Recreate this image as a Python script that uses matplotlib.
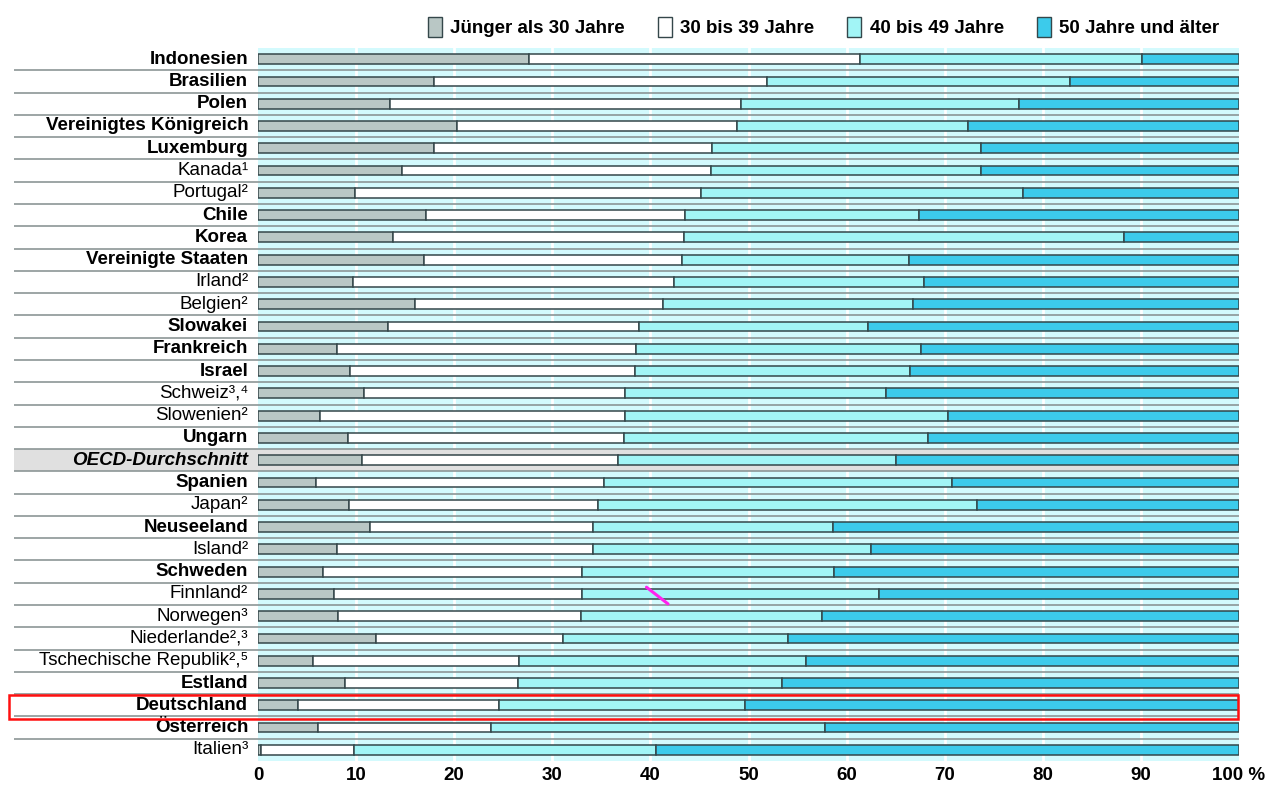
import matplotlib
matplotlib.use("Agg")
import matplotlib.pyplot as plt
from matplotlib.patches import Patch, Rectangle
import numpy as np

countries = [
    "Indonesien", "Brasilien", "Polen", "Vereinigtes Königreich", "Luxemburg",
    "Kanada¹", "Portugal²", "Chile", "Korea", "Vereinigte Staaten", "Irland²",
    "Belgien²", "Slowakei", "Frankreich", "Israel", "Schweiz³,⁴", "Slowenien²",
    "Ungarn", "OECD-Durchschnitt", "Spanien", "Japan²", "Neuseeland", "Island²",
    "Schweden", "Finnland²", "Norwegen³", "Niederlande²,³",
    "Tschechische Republik²,⁵", "Estland", "Deutschland", "Österreich", "Italien³",
]
bold_labels = {
    "Indonesien", "Brasilien", "Polen", "Vereinigtes Königreich", "Luxemburg",
    "Chile", "Korea", "Vereinigte Staaten", "Slowakei", "Frankreich", "Israel",
    "Ungarn", "Spanien", "Neuseeland", "Schweden", "Estland", "Deutschland",
    "Österreich",
}
average_label = "OECD-Durchschnitt"
highlight_label = "Deutschland"

# Age shares of teachers (%)
under_30 = [27.6, 17.9, 13.5, 20.3, 17.9, 14.7, 9.9, 17.1, 13.8, 16.9, 9.7,
            16.0, 13.3, 8.1, 9.4, 10.8, 6.3, 9.2, 10.6, 5.9, 9.3, 11.4, 8.1,
            6.6, 7.7, 8.2, 12.0, 5.6, 8.9, 4.1, 6.1, 0.3]
age_30_39 = [33.8, 34.0, 35.7, 28.5, 28.4, 31.5, 35.3, 26.4, 29.6, 26.3, 32.7,
             25.3, 25.5, 30.4, 29.0, 26.6, 31.1, 28.1, 26.1, 29.4, 25.4, 22.7,
             26.0, 26.4, 25.3, 24.7, 19.1, 21.0, 17.6, 20.5, 17.7, 9.5]
age_40_49 = [28.7, 30.9, 28.4, 23.6, 27.4, 27.5, 32.8, 23.9, 44.9, 23.2, 25.5,
             25.5, 23.4, 29.1, 28.1, 26.6, 32.9, 31.0, 28.3, 35.4, 38.6, 24.5,
             28.4, 25.7, 30.3, 24.6, 22.9, 29.3, 26.9, 25.0, 34.0, 30.8]
over_50 = [100 - a - b - c for a, b, c in zip(under_30, age_30_39, age_40_49)]

series = [under_30, age_30_39, age_40_49, over_50]
series_names = ["Jünger als 30 Jahre", "30 bis 39 Jahre", "40 bis 49 Jahre",
                "50 Jahre und älter"]
colors = ["#b9c7c5", "#ffffff", "#a2f5f6", "#3ccbeb"]
xticks = [0, 10, 20, 30, 40, 50, 60, 70, 80, 90, 100]
xtick_labels = ["0", "10", "20", "30", "40", "50", "60", "70", "80", "90", "100 %"]

FONT = ["Liberation Sans Narrow", "Liberation Sans", "DejaVu Sans"]
plt.rcParams["font.family"] = FONT

fig = plt.figure(figsize=(12.77, 7.85), dpi=100)
ax = fig.add_axes([258 / 1277, 1 - 761 / 785, 981 / 1277, 713 / 785])
ax.set_facecolor("#d3fafd")

n = len(countries)
y = np.arange(n)
ax.set_xlim(0, 100)
ax.set_ylim(n - 0.5, -0.5)

# vertical white grid
for t in xticks[1:-1]:
    ax.axvline(t, color="white", lw=2, zorder=1)

left_x = -24.9  # row rules and shading run out under the labels

# shaded average row
avg_i = countries.index(average_label)
ax.add_patch(Rectangle((left_x, avg_i - 0.5), 100 - left_x, 1.0,
                       facecolor="#e0e0e0", edgecolor="none", zorder=1.5,
                       clip_on=False))

# row separators
for i in range(n - 1):
    ax.plot([left_x, 100], [i + 0.5, i + 0.5], color="#8c9696", lw=1.2,
            zorder=2, clip_on=False, solid_capstyle="butt")

# stacked bars
left = np.zeros(n)
for vals, col, name in zip(series, colors, series_names):
    ax.barh(y, vals, left=left, height=0.44, color=col, edgecolor="#34474a",
            linewidth=1.1, zorder=3, label=name)
    left += np.array(vals)

# category labels
for i, c in enumerate(countries):
    if c == average_label:
        kw = dict(fontweight="bold", fontstyle="italic")
    elif c in bold_labels:
        kw = dict(fontweight="bold")
    else:
        kw = dict(fontweight="normal")
    ax.text(-1.0, i, c, ha="right", va="center", fontsize=13.5, color="black",
            family=FONT, **kw)

# highlight frame
hi = countries.index(highlight_label)
ax.add_patch(Rectangle((-25.4, hi - 0.45), 125.3, 1.05, facecolor="none",
                       edgecolor="#ff1010", lw=1.8, zorder=5, clip_on=False))

# editing stroke across the Finland row
fi = countries.index("Finnland²")
ax.plot([39.6, 41.8], [fi - 0.3, fi + 0.45], color="#ff22ee", lw=2.2,
        zorder=6, solid_capstyle="round")

ax.set_yticks([])
ax.set_xticks(xticks)
ax.set_xticklabels(xtick_labels, fontsize=13.5, fontweight="bold")
ax.tick_params(axis="x", length=0, pad=4)
for s in ax.spines.values():
    s.set_visible(False)

handles = [Patch(facecolor=c, edgecolor="#34474a", lw=1.0) for c in colors]
leg = fig.legend(handles, series_names, loc="center right",
                 bbox_to_anchor=(1236 / 1277, 1 - 27 / 785), ncol=4,
                 frameon=False, handlelength=0.75, handleheight=1.25,
                 handletextpad=0.45, columnspacing=1.75,
                 prop=dict(family=FONT, weight="bold", size=13.5))

fig.savefig("out.png", dpi=100, facecolor="white")
